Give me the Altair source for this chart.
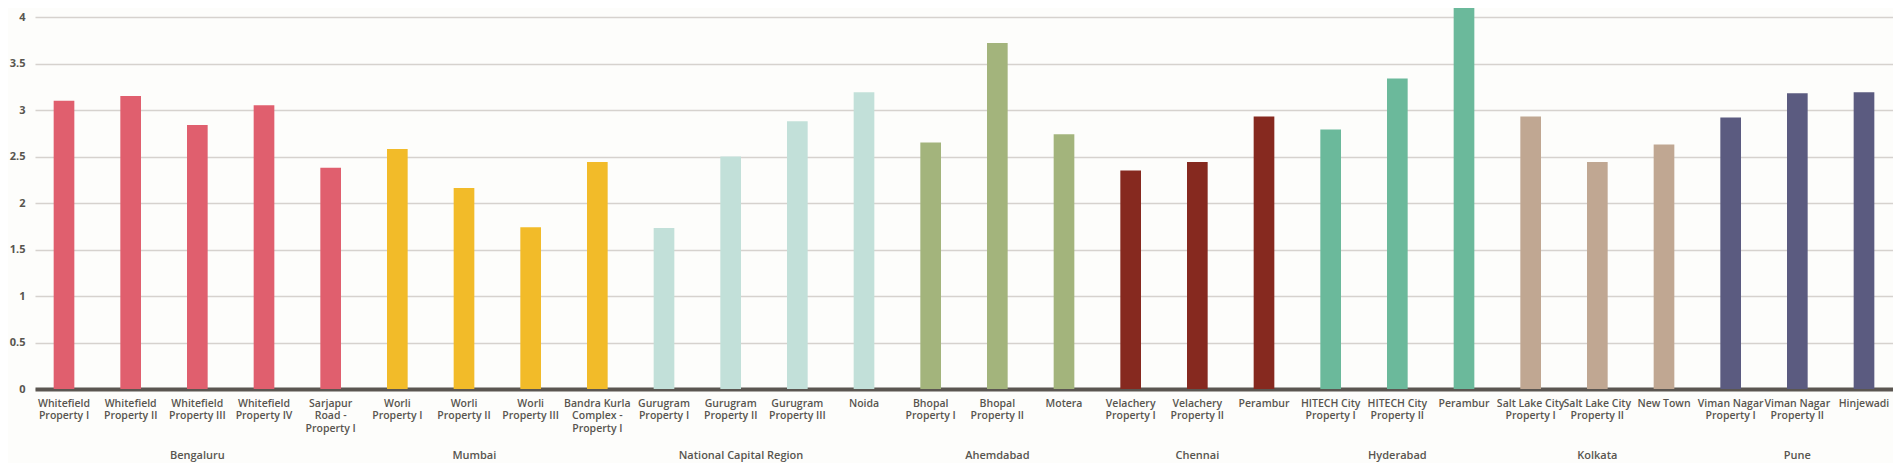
import altair as alt
import pandas as pd

# ---- data ----
groups = ["Bengaluru", "Mumbai", "National Capital Region", "Ahemdabad",
          "Chennai", "Hyderabad", "Kolkata", "Pune"]

labels = [
    ["Whitefield", "Property I"], ["Whitefield", "Property II"],
    ["Whitefield", "Property III"], ["Whitefield", "Property IV"],
    ["Sarjapur", "Road -", "Property I"],
    ["Worli", "Property I"], ["Worli", "Property II"], ["Worli", "Property III"],
    ["Bandra Kurla", "Complex -", "Property I"],
    ["Gurugram", "Property I"], ["Gurugram", "Property II"], ["Gurugram", "Property III"],
    ["Noida"],
    ["Bhopal", "Property I"], ["Bhopal", "Property II"], ["Motera"],
    ["Velachery", "Property I"], ["Velachery", "Property II"], ["Perambur"],
    ["HITECH City", "Property I"], ["HITECH City", "Property II"], ["Perambur"],
    ["Salt Lake City", "Property I"], ["Salt Lake City", "Property II"], ["New Town"],
    ["Viman Nagar", "Property I"], ["Viman Nagar", "Property II"], ["Hinjewadi"],
]

group_of = (["Bengaluru"] * 5 + ["Mumbai"] * 4 + ["National Capital Region"] * 4 +
            ["Ahemdabad"] * 3 + ["Chennai"] * 3 + ["Hyderabad"] * 3 +
            ["Kolkata"] * 3 + ["Pune"] * 3)

values = [3.10, 3.15, 2.84, 3.05, 2.38,
          2.58, 2.16, 1.74, 2.44,
          1.73, 2.50, 2.88, 3.19,
          2.65, 3.72, 2.74,
          2.35, 2.44, 2.93,
          2.79, 3.34, 4.14,
          2.93, 2.44, 2.63,
          2.92, 3.18, 3.19]

colors = ["#e05f6e", "#f2bb29", "#c2e0d9", "#a3b47c",
          "#86291f", "#6bb99b", "#c0a792", "#5b5b80"]

# ---- tables ----
keys = [f"{i:02d}|" + "|".join(lab) for i, lab in enumerate(labels)]
df = pd.DataFrame({"key": keys, "group": group_of, "value": values})

odd_rows, even_rows = [], []
for g in groups:
    members = [k for k, gg in zip(keys, group_of) if gg == g]
    n = len(members)
    if n % 2 == 1:
        odd_rows.append({"key": members[n // 2], "group": g})
    else:
        even_rows.append({"key": members[n // 2 - 1], "group": g})
odd_df = pd.DataFrame(odd_rows)
even_df = pd.DataFrame(even_rows)

FONT = "Open Sans"
TXT = "#58554f"
W, H = 1858, 372

xscale = alt.Scale(domain=keys, paddingInner=0.69, paddingOuter=0.28)
xaxis = alt.Axis(labelExpr="slice(split(datum.value, '|'), 1)",
                 labelAngle=0, labelFont=FONT, labelFontSize=10.5,
                 labelFontWeight=600, labelColor=TXT,
                 labelLineHeight=12.7, labelPadding=9,
                 labelBaseline="top", labelOverlap=False,
                 labelLimit=200, ticks=False, grid=False,
                 domainColor="#5b5651", domainWidth=4)

bars = alt.Chart(df).mark_bar().encode(
    x=alt.X("key:N", scale=xscale, title=None, axis=xaxis),
    y=alt.Y("value:Q", title=None,
            scale=alt.Scale(domain=[0, 4], nice=False, zero=True),
            axis=alt.Axis(values=[0, 0.5, 1, 1.5, 2, 2.5, 3, 3.5, 4],
                          format="~g", grid=True, gridColor="#d6d2ce",
                          gridWidth=1.6, domain=False, ticks=False,
                          labelFont=FONT, labelFontSize=11, labelFontWeight=700,
                          labelColor=TXT, labelPadding=10)),
    color=alt.Color("group:N", scale=alt.Scale(domain=groups, range=colors),
                    legend=None),
)

glabel_odd = alt.Chart(odd_df).mark_text(
    font=FONT, fontSize=11, fontWeight=600, color=TXT, baseline="middle"
).encode(
    x=alt.X("key:N", scale=xscale, title=None, axis=xaxis, bandPosition=0.5),
    y=alt.value(H + 67),
    text="group:N",
)

glabel_even = alt.Chart(even_df).mark_text(
    font=FONT, fontSize=11, fontWeight=600, color=TXT, baseline="middle"
).encode(
    x=alt.X("key:N", scale=xscale, title=None, axis=xaxis, bandPosition=1),
    y=alt.value(H + 67),
    text="group:N",
)

chart = alt.layer(bars, glabel_odd, glabel_even).properties(
    width=W, height=H,
    autosize=alt.AutoSizeParams(type="none"),
    padding={"left": 27, "top": 9, "right": 0, "bottom": 74},
    background="#fdfdfb",
).configure_view(stroke=None)

chart.save("out.html", embed_options={"renderer": "svg", "actions": False})
